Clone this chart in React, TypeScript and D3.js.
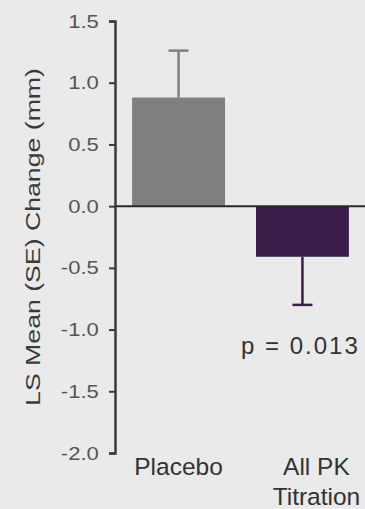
import { useEffect, useRef } from 'react';
import * as d3 from 'd3';

const categories = ["Placebo", "All PK Titration"];
const categoryLines = [["Placebo"], ["All PK", "Titration"]];
const means = [0.88, -0.41];
const errors = [0.38, 0.39];
const barColors = ["#7f7f7f", "#3a1d48"];
const yTicks = [1.5, 1.0, 0.5, 0.0, -0.5, -1.0, -1.5, -2.0];
const pValueLabel = "p = 0.013";
const pValueAt = -1.2;

export default function App() {
    const svgRef = useRef<SVGSVGElement>(null);
    const width = 365;
    const height = 509;

    useEffect(() => {
        const svg = d3.select(svgRef.current);
        svg.selectAll("*").remove();

        svg.append("rect")
            .attr("width", width)
            .attr("height", height)
            .attr("fill", "#eaeaea");

        const axisX = 115;

        const xScale = d3.scaleBand()
            .domain(categories)
            .range([116, 365])
            .paddingInner(0.25)
            .paddingOuter(0.13);

        const yScale = d3.scaleLinear()
            .domain([-2, 1.5])
            .range([453, 21]);

        // Barras
        svg.selectAll(".bar")
            .data(categories)
            .enter().append("rect")
            .attr("class", "bar")
            .attr("x", d => xScale(d) || 0)
            .attr("width", xScale.bandwidth())
            .attr("y", (_, i) => yScale(Math.max(0, means[i])))
            .attr("height", (_, i) => Math.abs(yScale(means[i]) - yScale(0)))
            .attr("fill", (_, i) => barColors[i]);

        // Barras de erro (so para fora)
        categories.forEach((c, i) => {
            const cx = (xScale(c) || 0) + xScale.bandwidth() / 2;
            const end = means[i] >= 0 ? means[i] + errors[i] : means[i] - errors[i];
            svg.append("line")
                .attr("x1", cx).attr("x2", cx)
                .attr("y1", yScale(means[i]))
                .attr("y2", yScale(end))
                .attr("stroke", barColors[i])
                .attr("stroke-width", 2.5);
            svg.append("line")
                .attr("x1", cx - 10).attr("x2", cx + 10)
                .attr("y1", yScale(end))
                .attr("y2", yScale(end))
                .attr("stroke", barColors[i])
                .attr("stroke-width", 2.5);
        });

        // Linha do zero
        svg.append("line")
            .attr("x1", axisX)
            .attr("x2", width)
            .attr("y1", yScale(0))
            .attr("y2", yScale(0))
            .attr("stroke", "#2a2a2a")
            .attr("stroke-width", 2);

        // Eixo Y
        const yAxis = svg.append("g")
            .attr("transform", `translate(${axisX},0)`)
            .call(d3.axisLeft(yScale)
                .tickValues(yTicks)
                .tickSize(6)
                .tickPadding(8)
                .tickSizeOuter(6)
                .tickFormat(d => (d as number).toFixed(1)));

        yAxis.select(".domain")
            .attr("stroke", "#3a3a3a")
            .attr("stroke-width", 2.5);
        yAxis.selectAll(".tick line")
            .attr("stroke", "#3a3a3a")
            .attr("stroke-width", 2);
        yAxis.selectAll(".tick text")
            .attr("transform", "scale(1.16,1)")
            .style("font-family", "'Liberation Sans', Arial, sans-serif")
            .style("font-size", "19px")
            .style("fill", "#555");

        // Rotulos do eixo X
        categoryLines.forEach((lines, i) => {
            const cx = (xScale(categories[i]) || 0) + xScale.bandwidth() / 2 + (i === 1 ? 14 : 0);
            const t = svg.append("text")
                .attr("text-anchor", "middle")
                .style("font-family", "'Liberation Sans', Arial, sans-serif")
                .style("font-size", "24.5px")
                .style("fill", "#333");
            lines.forEach((l, j) => {
                t.append("tspan")
                    .attr("x", cx)
                    .attr("y", 475 + j * 30)
                    .text(l);
            });
        });

        // Valor p
        svg.append("text")
            .attr("x", (xScale(categories[1]) || 0) + xScale.bandwidth() / 2 - 2)
            .attr("y", yScale(pValueAt))
            .attr("text-anchor", "middle")
            .attr("letter-spacing", "2px")
            .style("font-family", "'Liberation Sans', Arial, sans-serif")
            .style("font-size", "24px")
            .style("fill", "#333")
            .text(pValueLabel);

        // Titulo do eixo Y
        svg.append("text")
            .attr("transform", `translate(40,${(yScale(1.5) + yScale(-2)) / 2}) rotate(-90) scale(1.27,1)`)
            .attr("text-anchor", "middle")
            .style("font-family", "'Liberation Sans', Arial, sans-serif")
            .style("font-size", "21px")
            .style("fill", "#3a3a3a")
            .text("LS Mean (SE) Change (mm)");
    }, []);

    return <svg ref={svgRef} width={width} height={height}
        style={{ position: "absolute", left: 0, top: 0, display: "block" }}></svg>;
}
